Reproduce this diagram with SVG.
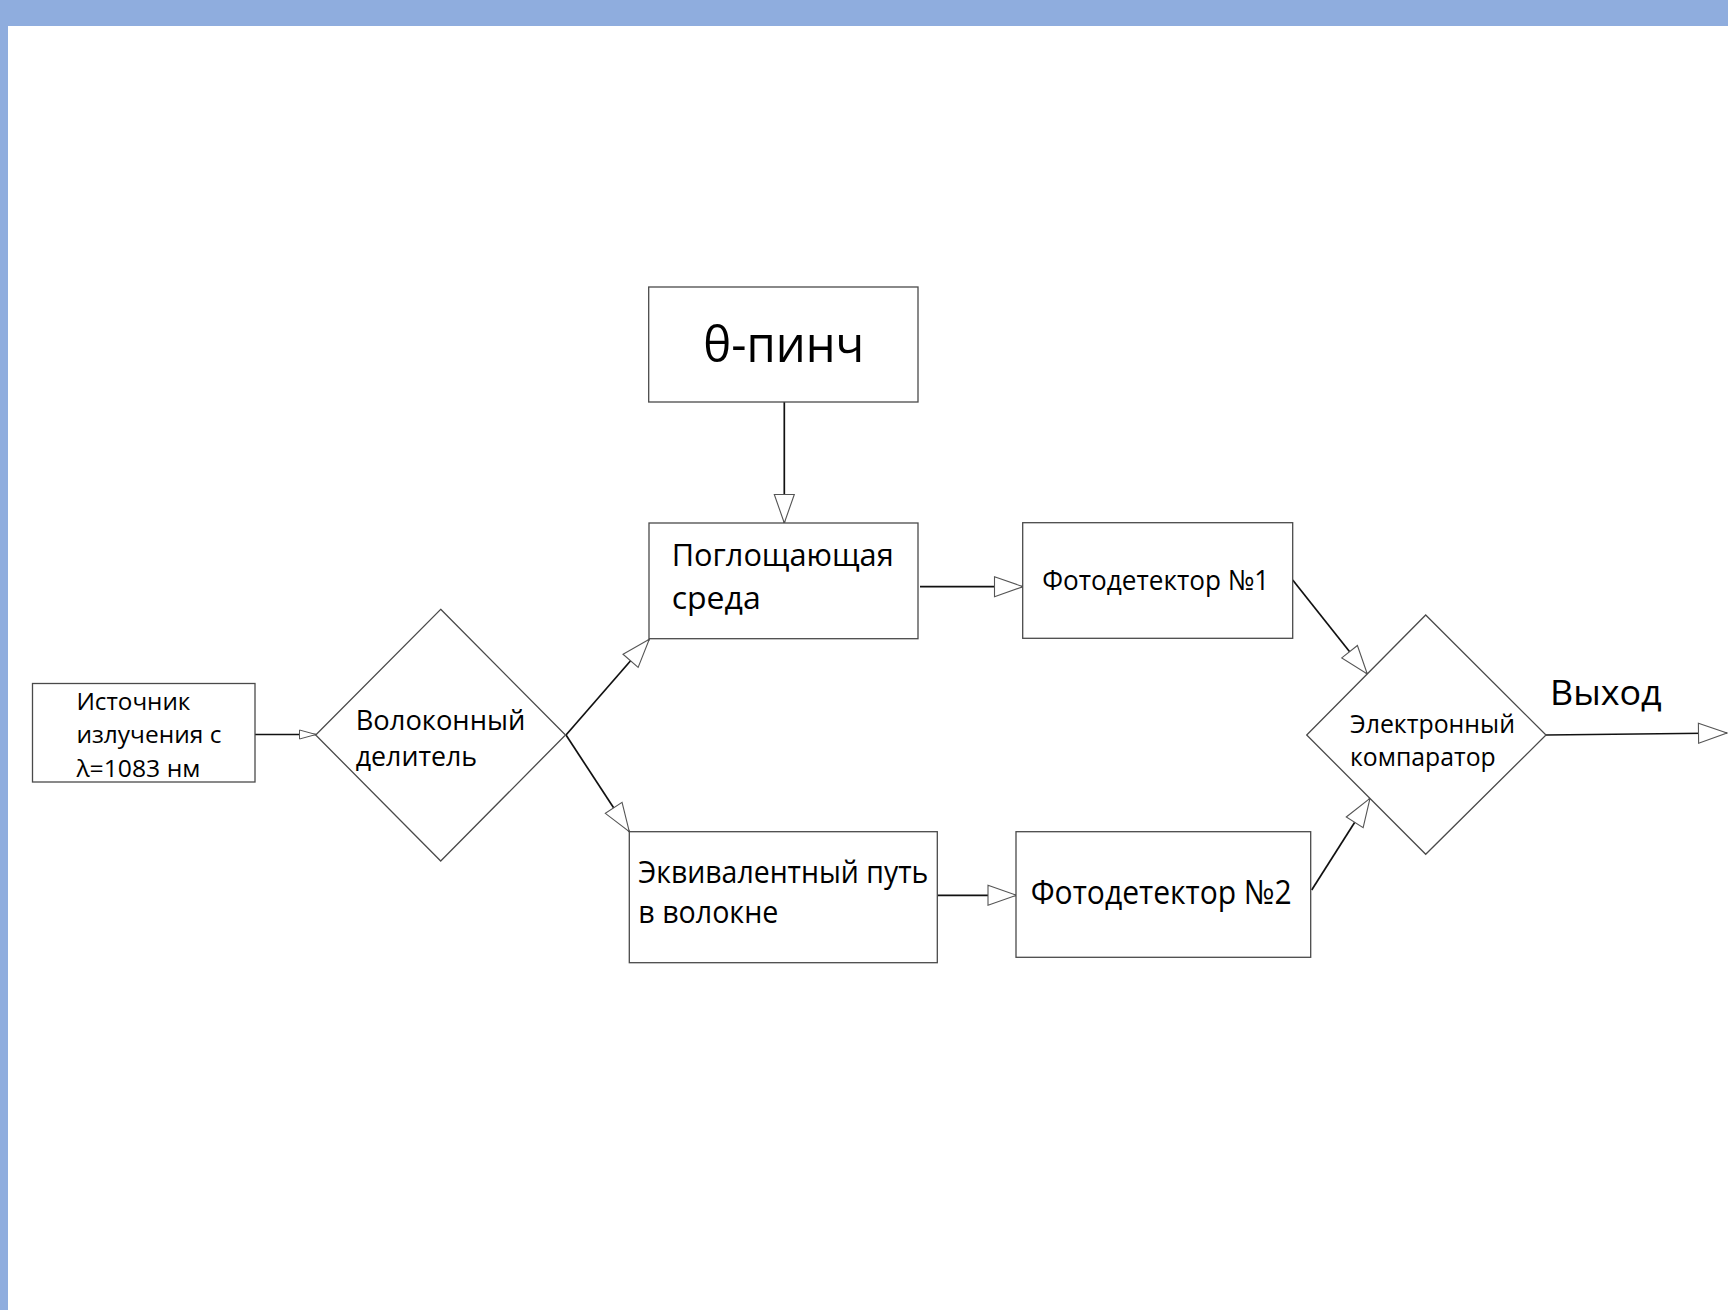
<svg xmlns="http://www.w3.org/2000/svg" width="1728" height="1310" viewBox="0 0 1728 1310">
<style>
  .box { fill: #ffffff; stroke: #4a4a4a; stroke-width: 1.3; }
  .conn { stroke: #111111; stroke-width: 1.7; fill: none; }
  .t { font-family: "Open Sans", "Noto Sans", "DejaVu Sans", sans-serif; fill: #000000; }
</style>
<defs>
  <marker id="ah" markerUnits="userSpaceOnUse" markerWidth="34" markerHeight="24" refX="29" refY="10.5" orient="auto" overflow="visible">
    <path d="M0.5,0.5 L29,10.5 L0.5,20.5 Z" fill="#ffffff" stroke="#555555" stroke-width="1.1"/>
  </marker>
  <marker id="ahs" markerUnits="userSpaceOnUse" markerWidth="20" markerHeight="12" refX="17" refY="5" orient="auto" overflow="visible">
    <path d="M0.5,0.5 L17,5 L0.5,9.5 Z" fill="#ffffff" stroke="#555555" stroke-width="1"/>
  </marker>
</defs>
<rect x="0" y="0" width="1728" height="1310" fill="#ffffff"/>
<rect x="0" y="0" width="1728" height="26" fill="#8FADDE"/>
<rect x="0" y="0" width="8" height="1310" fill="#8FADDE"/>

<g id="connectors">
  <line class="conn" x1="255" y1="734.5" x2="316" y2="734.5" marker-end="url(#ahs)"/>
  <line class="conn" x1="784.3" y1="402" x2="784.3" y2="523" marker-end="url(#ah)"/>
  <line class="conn" x1="920" y1="586.7" x2="1023" y2="586.7" marker-end="url(#ah)"/>
  <line class="conn" x1="566" y1="735" x2="649.3" y2="639.3" marker-end="url(#ah)"/>
  <line class="conn" x1="566" y1="735" x2="629.3" y2="831.7" marker-end="url(#ah)"/>
  <line class="conn" x1="937.3" y1="895.3" x2="1016.5" y2="895.3" marker-end="url(#ah)"/>
  <line class="conn" x1="1292.7" y1="580" x2="1367.3" y2="674" marker-end="url(#ah)"/>
  <line class="conn" x1="1311.7" y1="890" x2="1370" y2="798.3" marker-end="url(#ah)"/>
  <line class="conn" x1="1546" y1="735" x2="1727" y2="733" marker-end="url(#ah)"/>
</g>

<g id="source">
  <rect class="box" x="32.5" y="683.5" width="222.5" height="98.5"/>
  <text class="t" font-size="23.5" x="76.4" y="710" textLength="114" lengthAdjust="spacingAndGlyphs">Источник</text>
  <text class="t" font-size="23.5" x="76.4" y="743" textLength="145" lengthAdjust="spacingAndGlyphs">излучения с</text>
  <text class="t" font-size="23.5" x="76.4" y="776.7" textLength="124" lengthAdjust="spacingAndGlyphs">λ=1083 нм</text>
</g>

<g id="splitter">
  <polygon class="box" points="440.7,609.3 565.5,735 440.7,861 315.7,735"/>
  <text class="t" font-size="27" x="355.7" y="730" textLength="169.6" lengthAdjust="spacingAndGlyphs">Волоконный</text>
  <text class="t" font-size="27" x="355.7" y="765.7" textLength="121.4" lengthAdjust="spacingAndGlyphs">делитель</text>
</g>

<g id="theta-pinch">
  <rect class="box" x="648.7" y="287" width="269.3" height="115"/>
  <text class="t" font-size="50" x="703.3" y="361.7" textLength="161" lengthAdjust="spacingAndGlyphs">θ-пинч</text>
</g>

<g id="absorber">
  <rect class="box" x="649" y="523" width="269" height="115.7"/>
  <text class="t" font-size="31.5" x="671.7" y="566" textLength="222" lengthAdjust="spacingAndGlyphs">Поглощающая</text>
  <text class="t" font-size="31.5" x="671.7" y="609" textLength="89" lengthAdjust="spacingAndGlyphs">среда</text>
</g>

<g id="photodetector1">
  <rect class="box" x="1022.7" y="522.7" width="270" height="115.6"/>
  <text class="t" font-size="28" x="1042.3" y="590" textLength="227" lengthAdjust="spacingAndGlyphs">Фотодетектор №1</text>
</g>

<g id="equivalent-path">
  <rect class="box" x="629.3" y="831.7" width="308" height="131"/>
  <text class="t" font-size="30.4" x="638.3" y="883.3" textLength="290" lengthAdjust="spacingAndGlyphs">Эквивалентный путь</text>
  <text class="t" font-size="30.4" x="638.3" y="922.7" textLength="140" lengthAdjust="spacingAndGlyphs">в волокне</text>
</g>

<g id="photodetector2">
  <rect class="box" x="1016" y="831.7" width="294.7" height="125.6"/>
  <text class="t" font-size="33.6" x="1030.7" y="904" textLength="261" lengthAdjust="spacingAndGlyphs">Фотодетектор №2</text>
</g>

<g id="comparator">
  <polygon class="box" points="1425.7,615 1546,735 1425.7,854.3 1306.7,735"/>
  <text class="t" font-size="24.8" x="1350" y="732.7" textLength="165" lengthAdjust="spacingAndGlyphs">Электронный</text>
  <text class="t" font-size="24.8" x="1350" y="766" textLength="145.7" lengthAdjust="spacingAndGlyphs">компаратор</text>
</g>

<g id="output-label">
  <text class="t" font-size="35" x="1550" y="705" textLength="111.7" lengthAdjust="spacingAndGlyphs">Выход</text>
</g>
</svg>
